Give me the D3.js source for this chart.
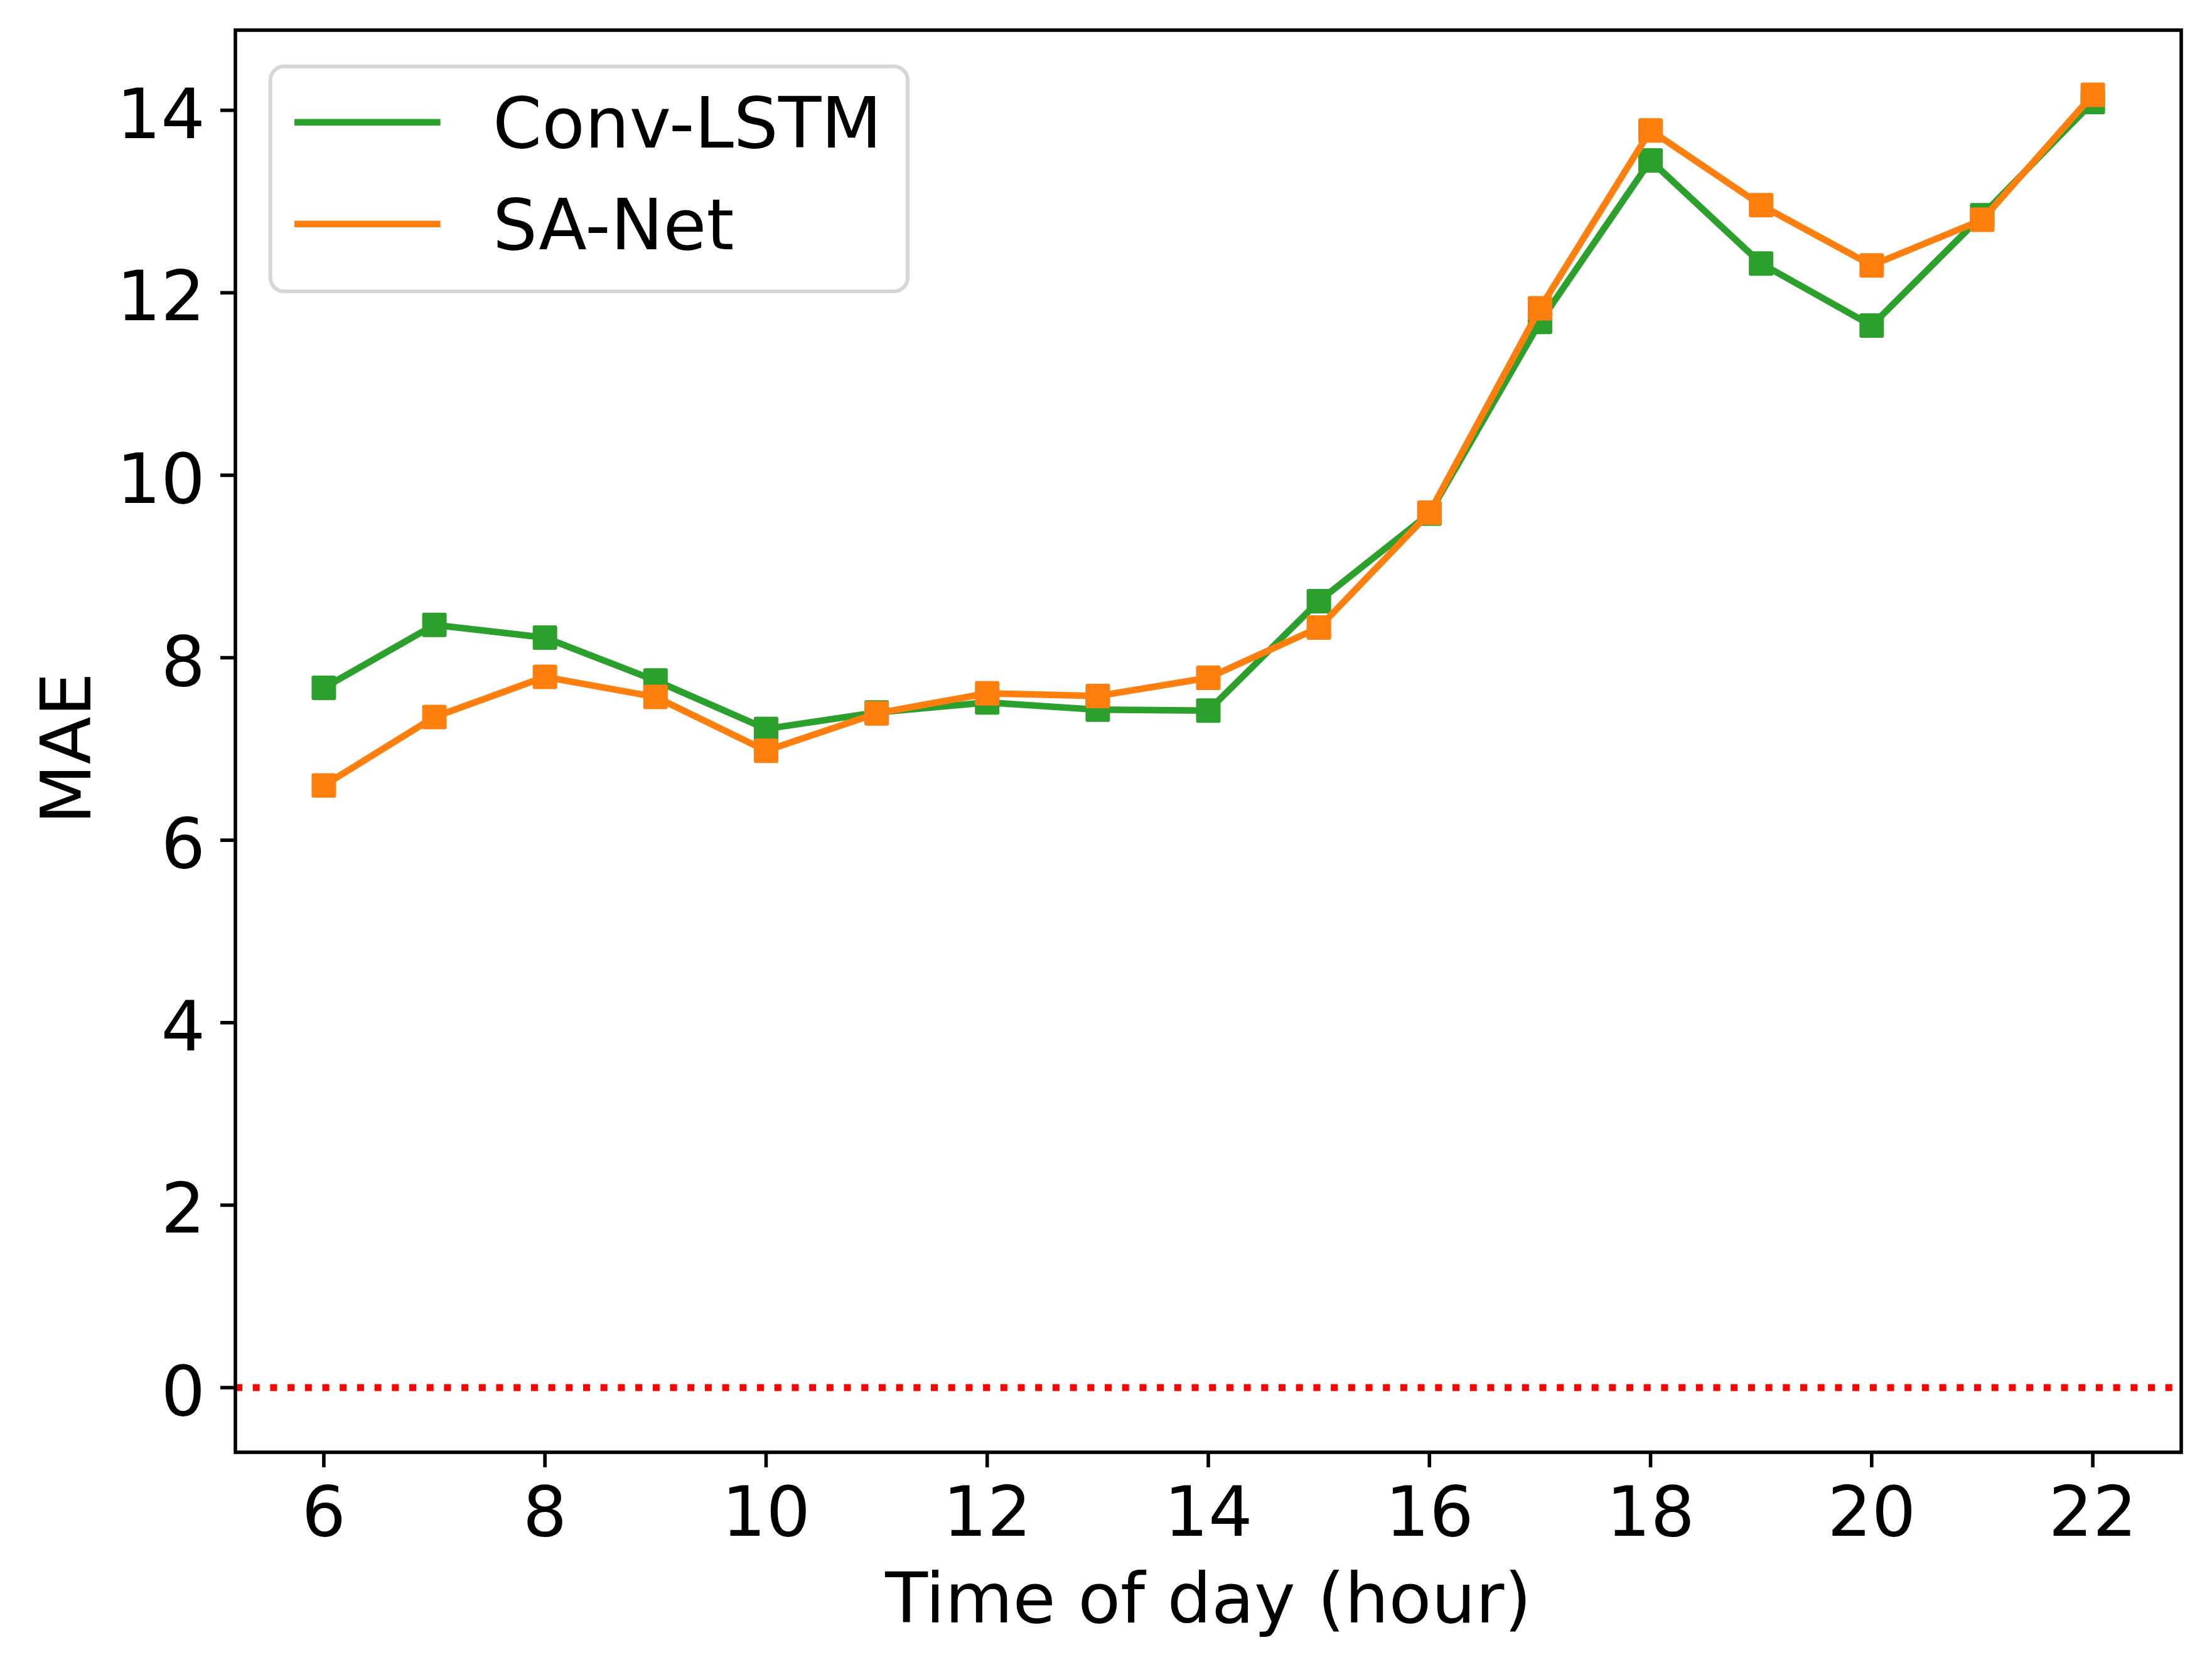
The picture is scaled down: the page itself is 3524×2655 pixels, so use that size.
<!DOCTYPE html>
<html>
<head>
<meta charset="utf-8">
<script src="https://cdn.jsdelivr.net/npm/d3@7"></script>
<style>
  html, body { margin: 0; padding: 0; background: #ffffff; }
  svg { display: block; }
  text { font-family: "DejaVu Sans", sans-serif; fill: #000; }
</style>
</head>
<body>
<svg id="chart" width="3524" height="2655"></svg>
<script>
// ---- data ----
const hours = [6, 7, 8, 9, 10, 11, 12, 13, 14, 15, 16, 17, 18, 19, 20, 21, 22];
const convLSTM = [7.67, 8.36, 8.22, 7.75, 7.22, 7.40, 7.51, 7.43, 7.42, 8.62, 9.58, 11.68, 13.45, 12.32, 11.64, 12.85, 14.09];
const saNet    = [6.60, 7.35, 7.79, 7.57, 6.98, 7.39, 7.61, 7.58, 7.78, 8.33, 9.59, 11.83, 13.78, 12.96, 12.30, 12.80, 14.17];
const seriesNames = ["Conv-LSTM", "SA-Net"];
const seriesColors = ["#2ca02c", "#ff7f0e"];
const xTicks = [6, 8, 10, 12, 14, 16, 18, 20, 22];
const yTicks = [0, 2, 4, 6, 8, 10, 12, 14];
const xLabel = "Time of day (hour)";
const yLabel = "MAE";
const refLine = 0;

// ---- layout ----
const svg = d3.select("#chart");
const L = 375, R = 3475, T = 48, B = 2313;
const x = d3.scaleLinear().domain([5.2, 22.8]).range([L, R]);
const y = d3.scaleLinear().domain([-0.7085, 14.8785]).range([B, T]);
const FS = 111;
const tickLen = 24, tickW = 5.6;

// reference dotted line
svg.append("line")
  .attr("x1", L).attr("x2", R)
  .attr("y1", y(refLine)).attr("y2", y(refLine))
  .attr("stroke", "#ff0000").attr("stroke-width", 11)
  .attr("stroke-dasharray", "11 16.7");

// series
const allSeries = [convLSTM, saNet];
const line = d3.line().x((d, i) => x(hours[i])).y(d => y(d));
const ms = 33;
allSeries.forEach((vals, si) => {
  const g = svg.append("g");
  g.append("path").datum(vals)
    .attr("d", line)
    .attr("fill", "none")
    .attr("stroke", seriesColors[si])
    .attr("stroke-width", 10.5)
    .attr("stroke-linejoin", "round")
    .attr("stroke-linecap", "square");
  g.selectAll("rect").data(vals).enter().append("rect")
    .attr("x", (d, i) => x(hours[i]) - ms / 2)
    .attr("y", d => y(d) - ms / 2)
    .attr("width", ms).attr("height", ms)
    .attr("fill", seriesColors[si])
    .attr("stroke", seriesColors[si])
    .attr("stroke-width", 6)
    .attr("stroke-linejoin", "round");
});

// spines
svg.append("rect")
  .attr("x", L).attr("y", T).attr("width", R - L).attr("height", B - T)
  .attr("fill", "none").attr("stroke", "#000").attr("stroke-width", tickW)
  .attr("stroke-linejoin", "miter");

// x ticks
const xg = svg.append("g");
xTicks.forEach(t => {
  xg.append("line").attr("x1", x(t)).attr("x2", x(t))
    .attr("y1", B).attr("y2", B + tickLen)
    .attr("stroke", "#000").attr("stroke-width", tickW);
  xg.append("text").attr("x", x(t)).attr("y", B + 133)
    .attr("text-anchor", "middle").attr("font-size", FS).text(t);
});
// y ticks
const yg = svg.append("g");
yTicks.forEach(t => {
  yg.append("line").attr("x1", L - tickLen).attr("x2", L)
    .attr("y1", y(t)).attr("y2", y(t))
    .attr("stroke", "#000").attr("stroke-width", tickW);
  yg.append("text").attr("x", L - tickLen - 24).attr("y", y(t) + 44)
    .attr("text-anchor", "end").attr("font-size", FS).text(t);
});

// axis labels
svg.append("text").attr("x", (L + R) / 2).attr("y", 2584)
  .attr("text-anchor", "middle").attr("font-size", FS).text(xLabel);
svg.append("text")
  .attr("transform", "translate(144,1192) rotate(-90)")
  .attr("text-anchor", "middle").attr("font-size", FS).text(yLabel);

// legend
const lg = svg.append("g");
lg.append("rect")
  .attr("x", 430.7).attr("y", 105.7).attr("width", 1446 - 430.7).attr("height", 464 - 105.7)
  .attr("rx", 22).attr("ry", 22)
  .attr("fill", "#ffffff").attr("fill-opacity", 0.8)
  .attr("stroke", "#d6d6d6").attr("stroke-width", 6);
const legY = [194.7, 356.7];
seriesNames.forEach((n, i) => {
  lg.append("line").attr("x1", 469).attr("x2", 701.7)
    .attr("y1", legY[i]).attr("y2", legY[i])
    .attr("stroke", seriesColors[i]).attr("stroke-width", 10.5);
  lg.append("text").attr("x", 785).attr("y", legY[i] + 40.5)
    .attr("font-size", FS + 1).text(n);
});
</script>
</body>
</html>
